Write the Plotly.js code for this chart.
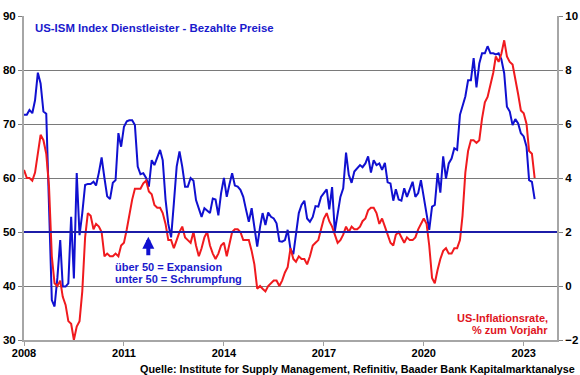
<!DOCTYPE html>
<html><head><meta charset="utf-8">
<script src="https://cdn.plot.ly/plotly-3.0.1.min.js"></script>
<style>html,body{margin:0;padding:0;background:#fff;} #chart{width:580px;height:375px;}</style>
</head><body><div id="chart"></div>
<script>
const startYear = 2008;
// US-ISM services prices paid index (left axis), monthly from Jan 2008
const ism2008 = [71.7, 71.7, 72.6, 72.0, 74.4, 79.5, 77.5, 72.3, 71.9, 55.0, 37.4, 36.2];
const ism2009 = [41.5, 48.5, 39.9, 39.9, 40.5, 52.8, 41.4, 60.9, 49.4, 53.5, 58.7, 58.9];
const ism2010 = [58.9, 59.3, 58.6, 61.0, 63.8, 60.0, 56.6, 56.1, 59.1, 59.6, 68.3, 65.8];
const ism2011 = [69.5, 70.5, 70.7, 70.7, 69.8, 62.1, 60.7, 60.9, 60.0, 58.4, 63.3, 62.4];
const ism2012 = [63.8, 65.2, 63.3, 56.0, 51.5, 49.0, 55.3, 62.1, 64.9, 62.1, 58.4, 58.4];
const ism2013 = [60.0, 59.5, 55.9, 54.1, 52.8, 54.4, 54.0, 53.5, 56.2, 56.0, 53.1, 57.2];
const ism2014 = [60.0, 56.5, 58.7, 60.9, 58.6, 58.4, 57.8, 56.5, 54.1, 51.9, 54.4, 51.3];
const ism2015 = [47.3, 50.9, 53.5, 51.3, 53.6, 52.8, 52.5, 51.6, 48.3, 48.2, 48.5, 50.4];
const ism2016 = [46.8, 45.9, 49.4, 53.5, 55.0, 55.8, 52.5, 51.9, 52.8, 54.8, 54.7, 56.5];
const ism2017 = [57.2, 57.9, 54.2, 58.3, 50.1, 53.8, 56.5, 58.1, 64.7, 60.6, 59.1, 61.2];
const ism2018 = [61.8, 62.4, 62.0, 62.7, 64.0, 61.0, 63.3, 62.4, 62.7, 61.5, 62.8, 59.2];
const ism2019 = [59.0, 55.8, 57.9, 56.0, 55.8, 58.1, 56.5, 57.8, 59.3, 56.5, 57.2, 59.6];
const ism2020 = [56.5, 53.8, 50.4, 54.7, 55.0, 60.9, 57.3, 64.0, 59.9, 62.7, 63.6, 65.5];
const ism2021 = [65.2, 71.7, 73.2, 75.1, 78.1, 78.1, 82.2, 76.8, 81.2, 83.1, 83.1, 84.4];
const ism2022 = [83.1, 83.1, 82.9, 83.1, 82.0, 79.4, 73.2, 72.3, 69.8, 70.9, 70.1, 68.3];
const ism2023 = [67.7, 65.8, 59.6, 59.3, 56.1];

// US inflation rate, % y/y (right axis), monthly from Jan 2008
const cpi2008 = [4.3, 4.0, 4.0, 3.9, 4.2, 5.0, 5.6, 5.4, 4.9, 3.7, 1.1, 0.1];
const cpi2009 = [0.0, 0.2, -0.4, -0.7, -1.3, -1.4, -2.0, -1.5, -1.3, -0.2, 1.8, 2.7];
const cpi2010 = [2.6, 2.1, 2.3, 2.2, 2.0, 1.1, 1.2, 1.1, 1.1, 1.2, 1.1, 1.5];
const cpi2011 = [1.6, 2.1, 2.7, 3.2, 3.6, 3.6, 3.6, 3.8, 3.9, 3.5, 3.4, 3.0];
const cpi2012 = [2.9, 2.9, 2.7, 2.3, 1.7, 1.7, 1.4, 1.7, 2.0, 2.2, 1.8, 1.7];
const cpi2013 = [1.6, 2.0, 1.5, 1.1, 1.4, 1.8, 2.0, 1.5, 1.2, 1.0, 1.2, 1.5];
const cpi2014 = [1.6, 1.1, 1.5, 2.0, 2.1, 2.1, 2.0, 1.7, 1.7, 1.7, 1.3, 0.8];
const cpi2015 = [-0.1, 0.0, -0.1, -0.2, 0.0, 0.1, 0.2, 0.2, 0.0, 0.2, 0.5, 0.7];
const cpi2016 = [1.4, 1.0, 0.9, 1.1, 1.0, 1.0, 0.8, 1.1, 1.5, 1.6, 1.7, 2.1];
const cpi2017 = [2.5, 2.7, 2.4, 2.2, 1.9, 1.6, 1.7, 1.9, 2.2, 2.0, 2.2, 2.1];
const cpi2018 = [2.1, 2.2, 2.4, 2.5, 2.8, 2.9, 2.9, 2.7, 2.3, 2.5, 2.2, 1.9];
const cpi2019 = [1.6, 1.5, 1.9, 2.0, 1.8, 1.6, 1.8, 1.7, 1.7, 1.8, 2.1, 2.3];
const cpi2020 = [2.5, 2.3, 1.5, 0.3, 0.1, 0.6, 1.0, 1.3, 1.4, 1.2, 1.2, 1.4];
const cpi2021 = [1.4, 1.7, 2.6, 4.2, 5.0, 5.4, 5.4, 5.3, 5.4, 6.2, 6.8, 7.0];
const cpi2022 = [7.5, 7.9, 8.5, 8.3, 8.6, 9.1, 8.5, 8.3, 8.2, 7.7, 7.1, 6.5];
const cpi2023 = [6.4, 6.0, 5.0, 4.9, 4.0];

const xTickVals = ['2008-01-01','2011-01-01','2014-01-01','2017-01-01','2020-01-01','2023-01-01'];
const xTickText = ['2008','2011','2014','2017','2020','2023'];
const leftTicks = [30, 40, 50, 60, 70, 80, 90];
const rightTicks = [-2, 0, 2, 4, 6, 8, 10];

const ismValues = [].concat(ism2008, ism2009, ism2010, ism2011, ism2012, ism2013, ism2014, ism2015,
  ism2016, ism2017, ism2018, ism2019, ism2020, ism2021, ism2022, ism2023);
const cpiValues = [].concat(cpi2008, cpi2009, cpi2010, cpi2011, cpi2012, cpi2013, cpi2014, cpi2015,
  cpi2016, cpi2017, cpi2018, cpi2019, cpi2020, cpi2021, cpi2022, cpi2023);

function monthDates(n) {
  const out = [];
  for (let i = 0; i < n; i++) {
    const y = startYear + Math.floor(i / 12);
    const m = (i % 12) + 1;
    out.push(y + '-' + String(m).padStart(2, '0') + '-01');
  }
  return out;
}

const FONT = 'Liberation Sans, Arial, sans-serif';
const tickFont = {family: FONT, size: 11.5, color: '#000', weight: 'bold'};

const traces = [
  {x: monthDates(ismValues.length), y: ismValues, type: 'scatter', mode: 'lines', yaxis: 'y',
   line: {color: '#1010d0', width: 2}, hoverinfo: 'skip'},
  {x: monthDates(cpiValues.length), y: cpiValues, type: 'scatter', mode: 'lines', yaxis: 'y2',
   line: {color: '#f01a1e', width: 2}, hoverinfo: 'skip'}
];

const W = 533, H = 324, L = 24, T = 16;
function px(xp) { return (xp - L) / W; }
function py(yp) { return (T + H - yp) / H; }

const layout = {
  width: 580, height: 375,
  margin: {l: 24, r: 23, t: 16, b: 35, pad: 0},
  paper_bgcolor: '#fff', plot_bgcolor: '#fff',
  showlegend: false,
  xaxis: {type: 'date', range: ['2008-01-01', '2024-01-01'], tickvals: xTickVals, ticktext: xTickText,
    ticks: 'outside', ticklen: 4, tickcolor: '#a0a0a0', tickwidth: 1, showgrid: false, ticklabelstandoff: -2,
    showline: true, linecolor: '#a6a6a6', linewidth: 2, tickfont: {family: FONT, size: 11, color: '#000', weight: 'bold'},
    zeroline: false, fixedrange: true},
  yaxis: {range: [30, 90], tickvals: leftTicks, ticks: 'outside', ticklen: 4, tickcolor: '#808080',
    showgrid: true, gridcolor: '#7a7a7a', gridwidth: 1, showline: true, linecolor: '#a6a6a6', linewidth: 2,
    tickfont: tickFont, zeroline: false, fixedrange: true},
  yaxis2: {overlaying: 'y', side: 'right', range: [-2, 10], tickvals: rightTicks, ticks: 'outside', ticklen: 4,
    tickcolor: '#808080', showgrid: false, showline: true, linecolor: '#a6a6a6', linewidth: 2,
    tickfont: tickFont, zeroline: false, fixedrange: true},
  shapes: [
    {type: 'line', xref: 'paper', x0: 0, x1: 1, yref: 'y', y0: 50, y1: 50, layer: 'above',
     line: {color: '#1c1ca8', width: 2}}
  ],
  annotations: [
    {xref: 'paper', yref: 'paper', x: px(33), y: py(28), xanchor: 'left', yanchor: 'middle', showarrow: false,
     text: 'US-ISM Index Dienstleister - Bezahlte Preise', font: {family: FONT, size: 11.4, color: '#1a1acc', weight: 'bold'}},
    {xref: 'x', yref: 'y', x: '2011-09-25', y: 49.1, ax: 0, ay: 20, showarrow: true, arrowhead: 2,
     arrowsize: 0.6, arrowwidth: 4, arrowcolor: '#1010d0', text: ''},
    {xref: 'paper', yref: 'paper', x: px(113), y: py(267), xanchor: 'left', yanchor: 'middle', showarrow: false,
     text: 'über 50 = Expansion', font: {family: FONT, size: 11, color: '#1a1acc', weight: 'bold'}},
    {xref: 'paper', yref: 'paper', x: px(113), y: py(279), xanchor: 'left', yanchor: 'middle', showarrow: false,
     text: 'unter 50 = Schrumpfung', font: {family: FONT, size: 11, color: '#1a1acc', weight: 'bold'}},
    {xref: 'paper', yref: 'paper', x: px(550), y: py(318), xanchor: 'right', yanchor: 'middle', showarrow: false,
     text: 'US-Inflationsrate,', font: {family: FONT, size: 11, color: '#e0141e', weight: 'bold'}},
    {xref: 'paper', yref: 'paper', x: px(550), y: py(330), xanchor: 'right', yanchor: 'middle', showarrow: false,
     text: '% zum Vorjahr', font: {family: FONT, size: 11, color: '#e0141e', weight: 'bold'}},
    {xref: 'paper', yref: 'paper', x: px(577), y: py(368.5), xanchor: 'right', yanchor: 'middle', showarrow: false,
     text: 'Quelle: Institute for Supply Management, Refinitiv, Baader Bank Kapitalmarktanalyse',
     font: {family: FONT, size: 10.8, color: '#000', weight: 'bold'}}
  ]
};

Plotly.newPlot('chart', traces, layout, {displayModeBar: false, staticPlot: true});
</script>
</body></html>
